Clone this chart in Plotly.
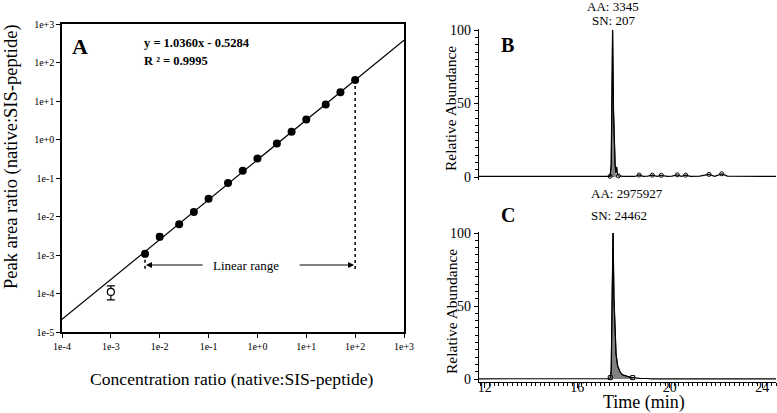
import plotly.graph_objects as go
import math

# ---------------- Data: panel A (calibration) ----------------
conc = [5e-3, 1e-2, 2.5e-2, 5e-2, 0.1, 0.25, 0.5, 1, 2.5, 5, 10, 25, 50, 100]
ratio = [1.07e-3, 3.0e-3, 6.3e-3, 1.31e-2, 2.9e-2, 7.4e-2, 0.155, 0.32, 0.79, 1.58, 3.3, 8.1, 17.0, 35.0]
ratio_err = [0.12e-3, 0.5e-3, 0.5e-3, 0.8e-3, 0.0, 0.0, 0.0, 0.0, 0.0, 0.0, 0.0, 0.0, 0.0, 0.0]
lloq_conc = [1e-3]
lloq_ratio = [1.1e-4]
lloq_err_plus = [0.47e-4]
lloq_err_minus = [0.42e-4]
fit_slope = 1.0360
fit_intercept = -0.5284
fit_x = [1e-4, 1e3]
x_ticks = [1e-4, 1e-3, 1e-2, 1e-1, 1e0, 1e1, 1e2, 1e3]
x_ticklabels = ["1e-4", "1e-3", "1e-2", "1e-1", "1e+0", "1e+1", "1e+2", "1e+3"]
y_ticks = [1e-5, 1e-4, 1e-3, 1e-2, 1e-1, 1e0, 1e1, 1e2, 1e3]
y_ticklabels = ["1e-5", "1e-4", "1e-3", "1e-2", "1e-1", "1e+0", "1e+1", "1e+2", "1e+3"]
range_low = 5e-3
range_high = 100
range_bottom = 4.1e-4
arrow_y = 5.5e-4

# ---------------- Data: panel B (chromatogram near LLOQ) ----------------
b_time = [11.75, 12.5, 13.0, 13.6, 14.0, 15.0, 15.6, 16.0, 16.5, 17.0, 17.3, 17.42,
          17.47, 17.50, 17.53, 17.57, 17.61, 17.64, 17.67, 17.71, 17.74, 17.78,
          18.0, 18.3, 18.5, 18.68, 18.85, 19.05, 19.25, 19.45, 19.64, 19.9, 20.1,
          20.33, 20.5, 20.69, 20.9, 21.3, 21.70, 21.95, 22.25, 22.5, 23.0, 23.5, 24.0, 24.6]
b_int = [0.5, 0.4, 0.6, 0.4, 0.5, 0.4, 0.5, 0.4, 0.5, 0.4, 0.5, 0.5,
         8, 50, 100, 45, 20, 8, 3, 7, 2, 0.8,
         0.5, 0.6, 0.4, 1.4, 0.5, 0.6, 1.3, 0.5, 1.2, 0.5, 0.6,
         1.5, 0.5, 1.3, 0.5, 0.6, 1.8, 0.5, 2.2, 0.6, 0.5, 0.6, 0.4, 0.5]
b_peak_time = [17.42, 17.47, 17.50, 17.53, 17.57, 17.61, 17.64, 17.67]
b_peak_int = [0.5, 8, 50, 100, 45, 20, 8, 3]
b_bound_time = [17.42, 17.78, 18.68, 19.25, 19.64, 20.33, 20.69, 21.70, 22.25]
b_bound_int = [0.5, 0.8, 1.4, 1.3, 1.2, 1.5, 1.3, 1.8, 2.2]

# ---------------- Data: panel C (internal standard) ----------------
c_time = [11.75, 13.0, 15.0, 17.0, 17.38, 17.43, 17.47, 17.51, 17.55, 17.59, 17.63,
          17.68, 17.75, 17.85, 17.95, 18.1, 18.3, 18.4, 18.5, 18.7, 19.0, 19.2, 20.0, 22.0, 24.6]
c_int = [0.2, 0.2, 0.2, 0.2, 0.3, 1, 6, 55, 100, 55, 30,
         17, 9, 5, 3, 2, 1.2, 1.0, 0.8, 0.5, 0.4, 0.2, 0.2, 0.2, 0.2]
c_peak_time = [17.43, 17.47, 17.51, 17.55, 17.59, 17.63, 17.68, 17.75, 17.85, 17.95, 18.1, 18.3, 18.4]
c_peak_int = [1, 6, 55, 100, 55, 30, 17, 9, 5, 3, 2, 1.2, 1.0]
c_bound_time = [17.43, 18.4]
c_bound_int = [1, 1.0]

SERIF = "Liberation Serif"
W, H = 777, 413


def px_x(p):
    return p / W


def px_y(p):
    return 1 - p / H


fig = go.Figure()

# ---- Panel A ----
fit_y = [10 ** (fit_slope * math.log10(x) + fit_intercept) for x in fit_x]
fig.add_trace(go.Scatter(x=fit_x, y=fit_y, mode="lines", line=dict(color="black", width=1.2),
                         xaxis="x", yaxis="y", showlegend=False))
fig.add_trace(go.Scatter(x=[range_low, range_low], y=[ratio[0], range_bottom], mode="lines",
                         line=dict(color="black", width=1.5, dash="dot"), xaxis="x", yaxis="y",
                         showlegend=False))
fig.add_trace(go.Scatter(x=[range_high, range_high], y=[ratio[-1], range_bottom], mode="lines",
                         line=dict(color="black", width=1.5, dash="dot"), xaxis="x", yaxis="y",
                         showlegend=False))
fig.add_trace(go.Scatter(x=conc, y=ratio, mode="markers",
                         marker=dict(color="black", size=8),
                         error_y=dict(type="data", array=ratio_err, color="black", thickness=1.2, width=3),
                         xaxis="x", yaxis="y", showlegend=False))
fig.add_trace(go.Scatter(x=lloq_conc, y=lloq_ratio, mode="markers",
                         marker=dict(color="white", size=7, line=dict(color="black", width=1.2)),
                         error_y=dict(type="data", array=lloq_err_plus, arrayminus=lloq_err_minus,
                                      color="black", thickness=1.2, width=4),
                         xaxis="x", yaxis="y", showlegend=False))

# ---- Panel B ----
fig.add_trace(go.Scatter(x=b_peak_time, y=b_peak_int, mode="lines", fill="tozeroy",
                         fillcolor="#808080", line=dict(color="black", width=1),
                         xaxis="x2", yaxis="y2", showlegend=False))
fig.add_trace(go.Scatter(x=b_time, y=b_int, mode="lines", line=dict(color="black", width=1.2),
                         xaxis="x2", yaxis="y2", showlegend=False))
fig.add_trace(go.Scatter(x=b_bound_time, y=b_bound_int, mode="markers",
                         marker=dict(symbol="circle-open", color="black", size=4),
                         xaxis="x2", yaxis="y2", showlegend=False))

# ---- Panel C ----
fig.add_trace(go.Scatter(x=c_peak_time, y=c_peak_int, mode="lines", fill="tozeroy",
                         fillcolor="#808080", line=dict(color="black", width=1),
                         xaxis="x3", yaxis="y3", showlegend=False))
fig.add_trace(go.Scatter(x=c_time, y=c_int, mode="lines", line=dict(color="black", width=1.2),
                         xaxis="x3", yaxis="y3", showlegend=False))
fig.add_trace(go.Scatter(x=c_bound_time, y=c_bound_int, mode="markers",
                         marker=dict(symbol="square-open", color="black", size=4),
                         xaxis="x3", yaxis="y3", showlegend=False))

tickfontA = dict(family=SERIF, size=10, color="black")
tickfontB = dict(family=SERIF, size=14, color="black")

chrom_xrange = [11.75, 24.6]

fig.update_layout(
    width=W, height=H,
    margin=dict(l=0, r=0, t=0, b=0, autoexpand=False),
    paper_bgcolor="white", plot_bgcolor="white",
    showlegend=False,
    xaxis=dict(domain=[px_x(62), px_x(404)], type="log", range=[-4, 3], anchor="y",
               tickmode="array", tickvals=x_ticks, ticktext=x_ticklabels, tickfont=tickfontA,
               ticks="outside", ticklen=4, tickcolor="black", showgrid=False, zeroline=False,
               showline=True, linecolor="black", linewidth=1.5, mirror=True, automargin=False),
    yaxis=dict(domain=[px_y(332), px_y(24)], type="log", range=[-5, 3], anchor="x",
               tickmode="array", tickvals=y_ticks, ticktext=y_ticklabels, tickfont=tickfontA,
               ticks="outside", ticklen=4, tickcolor="black", showgrid=False, zeroline=False,
               showline=True, linecolor="black", linewidth=1.5, mirror=True, automargin=False),
    xaxis2=dict(domain=[px_x(479), px_x(776)], range=chrom_xrange, anchor="y2",
                showticklabels=False, ticks="", showgrid=False, zeroline=False, showline=False,
                automargin=False),
    yaxis2=dict(domain=[px_y(180), px_y(29.3)], range=[-2, 100.5], anchor="x2",
                tickvals=[0, 50, 100], tickfont=tickfontB, ticks="outside", ticklen=4,
                tickcolor="black", showgrid=False, zeroline=False,
                showline=True, linecolor="black", linewidth=1.2, automargin=False,
                minor=dict(dtick=5, ticks="outside", ticklen=3, tickcolor="black")),
    xaxis3=dict(domain=[px_x(479), px_x(776)], range=chrom_xrange, anchor="y3",
                tickvals=[12, 16, 20, 24], tickfont=tickfontB, ticks="outside", ticklen=5,
                tickcolor="black", showgrid=False, zeroline=False, automargin=False,
                showline=True, linecolor="black", linewidth=1.2, ticklabelstandoff=-13,
                minor=dict(dtick=0.2, ticks="outside", ticklen=3, tickcolor="black")),
    yaxis3=dict(domain=[px_y(382), px_y(232.3)], range=[-2, 100.5], anchor="x3",
                tickvals=[0, 50, 100], tickfont=tickfontB, ticks="outside", ticklen=4,
                tickcolor="black", showgrid=False, zeroline=False,
                showline=True, linecolor="black", linewidth=1.2, automargin=False,
                minor=dict(dtick=5, ticks="outside", ticklen=3, tickcolor="black")),
)


def text_ann(text, xp, yp, size, bold=False, xanchor="center", angle=0):
    t = f"<b>{text}</b>" if bold else text
    return dict(text=t, x=px_x(xp), y=px_y(yp), xref="paper", yref="paper",
                xanchor=xanchor, yanchor="middle", textangle=angle, showarrow=False,
                font=dict(family=SERIF, size=size, color="black"))


ann = []
ann.append(text_ann("Peak area ratio (native:SIS-peptide)", 11, 157, 18.5, angle=-90))
ann.append(text_ann("Concentration ratio (native:SIS-peptide)", 232, 379, 17.6))
ann.append(text_ann("Relative Abundance", 451, 109, 15.5, angle=-90))
ann.append(text_ann("Relative Abundance", 451, 312, 15.5, angle=-90))
ann.append(text_ann("Time (min)", 644, 402.5, 18))
ann.append(text_ann("A", 80, 47, 22, bold=True))
ann.append(text_ann("y = 1.0360x - 0.5284", 142, 43, 12.5, bold=True, xanchor="left"))
ann.append(text_ann("R ² = 0.9995", 142, 61, 12.5, bold=True, xanchor="left"))
ann.append(dict(text="Linear range", x=-0.24, y=math.log10(arrow_y), xref="x", yref="y",
                showarrow=False, font=dict(family=SERIF, size=13, color="black")))
ann.append(dict(text="", x=math.log10(range_low), y=math.log10(arrow_y), xref="x", yref="y",
                ax=59, ay=0, showarrow=True, arrowhead=2, arrowsize=1, arrowwidth=1.2,
                arrowcolor="black", standoff=1))
ann.append(dict(text="", x=math.log10(range_high), y=math.log10(arrow_y), xref="x", yref="y",
                ax=-57, ay=0, showarrow=True, arrowhead=2, arrowsize=1, arrowwidth=1.2,
                arrowcolor="black", standoff=1))
ann.append(text_ann("B", 508, 45, 20, bold=True))
ann.append(text_ann("C", 508, 215, 20, bold=True))
ann.append(text_ann("AA: 3345", 613, 6, 13))
ann.append(text_ann("SN: 207", 613, 21, 13))
ann.append(text_ann("AA: 2975927", 627, 193, 13))
ann.append(text_ann("SN: 24462", 619, 215, 13))
fig.update_layout(annotations=ann)

fig.write_html("out.html", config={"displayModeBar": False},
               post_script="document.body.style.margin='0';")
